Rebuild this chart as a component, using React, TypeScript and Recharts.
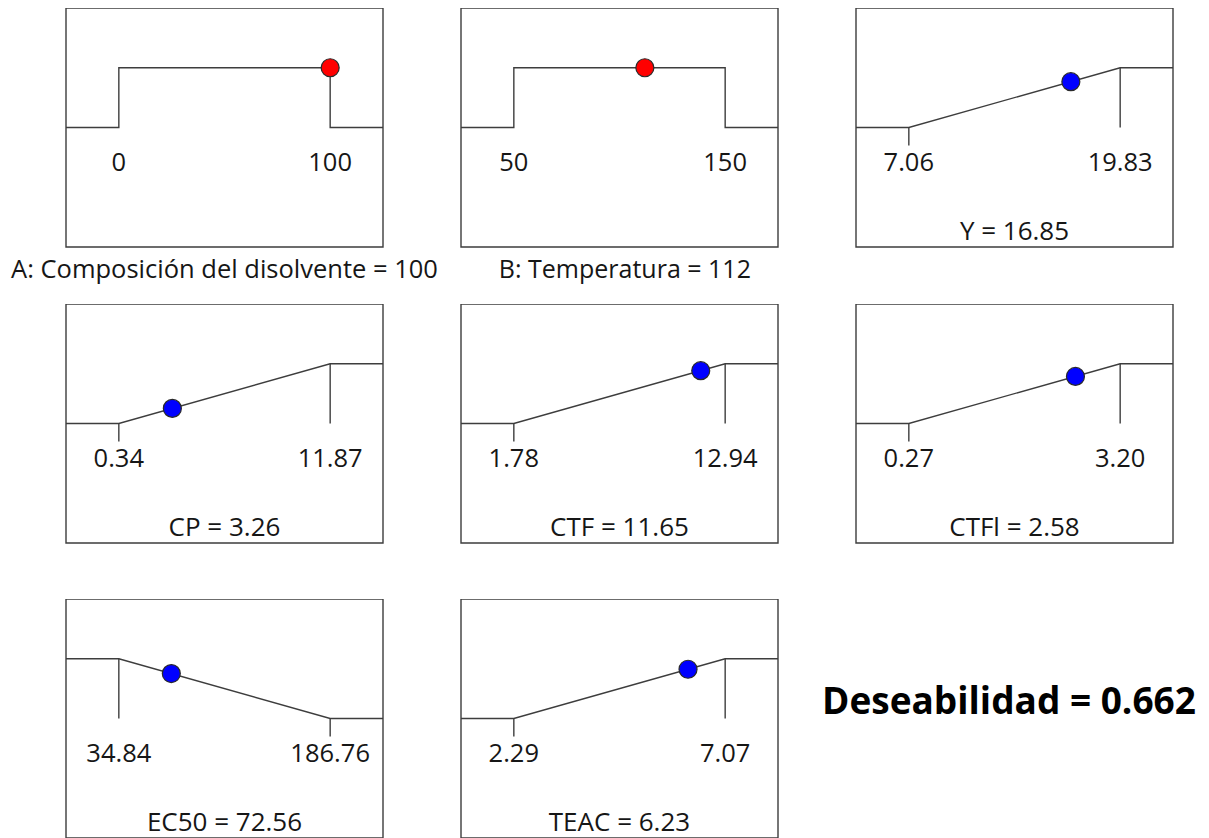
import React from 'react';
import { ComposedChart, Line, Scatter, XAxis, YAxis, ReferenceLine, ReferenceDot, ReferenceArea } from 'recharts';

// ---- data ----
const panelNames = ['A: Composición del disolvente', 'B: Temperatura', 'Y', 'CP', 'CTF', 'CTFl', 'EC50', 'TEAC'];
const panelKinds = ['factor', 'factor', 'response', 'response', 'response', 'response', 'response', 'response'];
const goals = ['range', 'range', 'max', 'max', 'max', 'max', 'min', 'max'];
const lowLimits = [0, 50, 7.06, 0.34, 1.78, 0.27, 34.84, 2.29];
const highLimits = [100, 150, 19.83, 11.87, 12.94, 3.2, 186.76, 7.07];
const lowLabels = ['0', '50', '7.06', '0.34', '1.78', '0.27', '34.84', '2.29'];
const highLabels = ['100', '150', '19.83', '11.87', '12.94', '3.20', '186.76', '7.07'];
const currentValues = [100, 112, 16.85, 3.26, 11.65, 2.58, 72.56, 6.23];
const currentLabels = ['100', '112', '16.85', '3.26', '11.65', '2.58', '72.56', '6.23'];
const pointDesirability = [1, 1, 0.767, 0.253, 0.884, 0.788, 0.752, 0.824];
const overallLabel = 'Deseabilidad';
const overallValue = '0.662';

// ---- layout ----
const BOX_W = 317;
const BOX_H = 239;
const PAD = 80;
const CHART_H = 292;
const positions = [
  [66, 8], [461, 8], [856, 8],
  [66, 304], [461, 304], [856, 304],
  [66, 599], [461, 599],
];
const FONT = '"Open Sans", "Noto Sans", sans-serif';
const TEXT = '#161616';
const LINE = '#3d3d3d';
const TICK_SIZE = 25.5;

function Panel({ i }: { i: number }) {
  const lo = lowLimits[i];
  const hi = highLimits[i];
  const r = hi - lo;
  const dMin = lo - 0.25 * r;
  const dMax = hi + 0.25 * r;
  const goal = goals[i];
  let curve: { x: number; y: number }[];
  const segs: { x: number; y1: number; y2: number }[] = [];
  if (goal === 'range') {
    curve = [
      { x: dMin, y: 0 }, { x: lo, y: 0 }, { x: lo, y: 1 },
      { x: hi, y: 1 }, { x: hi, y: 0 }, { x: dMax, y: 0 },
    ];
  } else if (goal === 'max') {
    curve = [{ x: dMin, y: 0 }, { x: lo, y: 0 }, { x: hi, y: 1 }, { x: dMax, y: 1 }];
    segs.push({ x: lo, y1: 0, y2: -0.3 });
    segs.push({ x: hi, y1: 1, y2: 0 });
  } else {
    curve = [{ x: dMin, y: 1 }, { x: lo, y: 1 }, { x: hi, y: 0 }, { x: dMax, y: 0 }];
    segs.push({ x: lo, y1: 1, y2: 0 });
    segs.push({ x: hi, y1: 0, y2: -0.3 });
  }
  const isFactor = panelKinds[i] === 'factor';
  const dotColor = isFactor ? '#ff0000' : '#0000ff';
  const point = [{ x: currentValues[i], y: pointDesirability[i] }];
  const title = `${panelNames[i]} = ${currentLabels[i]}`;
  const [left, top] = positions[i];
  const titleSize = i === 0 ? 25.5 : i === 1 ? 25 : 26;
  const titleX = i === 1 ? dMin + (dMax - dMin) * 0.517 : (dMin + dMax) / 2;

  return (
    <div style={{ position: 'absolute', left: left - PAD, top, width: BOX_W + 2 * PAD, height: CHART_H }}>
      <ComposedChart
        width={BOX_W + 2 * PAD}
        height={CHART_H}
        margin={{ top: 0, right: PAD, bottom: CHART_H - BOX_H, left: PAD }}
      >
        <XAxis type="number" dataKey="x" domain={[dMin, dMax]} hide allowDataOverflow />
        <YAxis type="number" dataKey="y" domain={[-2, 2]} hide allowDataOverflow />
        <ReferenceArea x1={dMin} x2={dMax} y1={-2} y2={2} fill="none" stroke={LINE} strokeWidth={1.4} ifOverflow="visible" />
        <Line
          data={curve}
          dataKey="y"
          type="linear"
          stroke={LINE}
          strokeWidth={1.4}
          dot={false}
          activeDot={false}
          isAnimationActive={false}
        />
        {segs.map((s, k) => (
          <ReferenceLine
            key={k}
            segment={[{ x: s.x, y: s.y1 }, { x: s.x, y: s.y2 }]}
            stroke={LINE}
            strokeWidth={1.4}
            ifOverflow="visible"
          />
        ))}
        <ReferenceDot
          x={lo}
          y={-0.58}
          r={0}
          fill="none"
          stroke="none"
          ifOverflow="visible"
          label={{ value: lowLabels[i], position: 'center', fontSize: TICK_SIZE, fill: TEXT, fontFamily: FONT }}
        />
        <ReferenceDot
          x={hi}
          y={-0.58}
          r={0}
          fill="none"
          stroke="none"
          ifOverflow="visible"
          label={{ value: highLabels[i], position: 'center', fontSize: TICK_SIZE, fill: TEXT, fontFamily: FONT }}
        />
        <ReferenceDot
          x={titleX}
          y={isFactor ? -2.37 : -1.73}
          r={0}
          fill="none"
          stroke="none"
          ifOverflow="visible"
          label={{ value: title, position: 'center', fontSize: titleSize, fill: TEXT, fontFamily: FONT }}
        />
        <Scatter
          data={point}
          dataKey="y"
          isAnimationActive={false}
          shape={(p: any) => (
            <circle cx={p.cx} cy={p.cy} r={9} fill={dotColor} stroke="#2a2a2a" strokeWidth={1.2} />
          )}
        />
      </ComposedChart>
    </div>
  );
}

export default function App() {
  return (
    <div
      style={{
        position: 'fixed',
        left: 0,
        top: 0,
        width: 1209,
        height: 838,
        overflow: 'hidden',
        background: '#ffffff',
        fontFamily: FONT,
      }}
    >
      {panelNames.map((_, i) => (
        <Panel key={i} i={i} />
      ))}
      <div
        style={{
          position: 'absolute',
          left: 822,
          top: 677,
          width: 385,
          textAlign: 'left',
          fontSize: 37,
          fontWeight: 700,
          color: '#000',
          lineHeight: '46px',
          whiteSpace: 'nowrap',
          fontFamily: FONT,
        }}
      >
        {`${overallLabel} = ${overallValue}`}
      </div>
    </div>
  );
}
